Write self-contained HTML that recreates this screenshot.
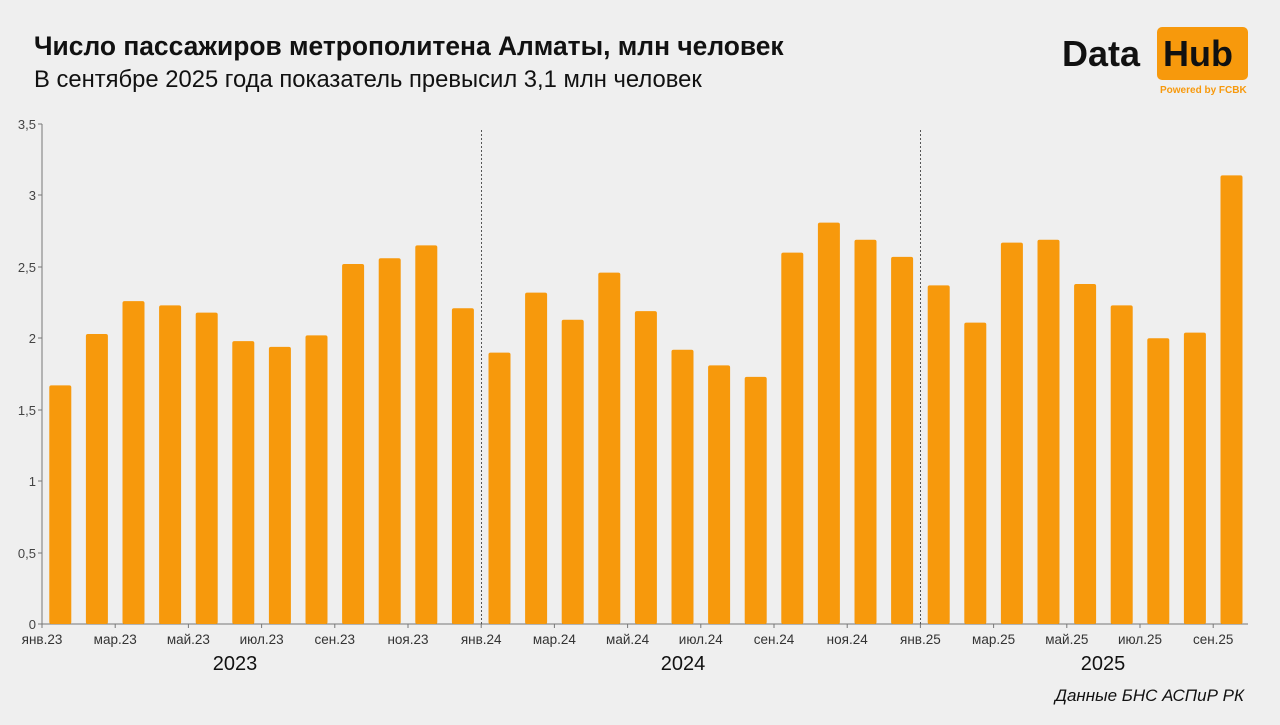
<!DOCTYPE html>
<html><head><meta charset="utf-8"><style>
body{margin:0;width:1280px;height:720px;background:#efefef;overflow:hidden;font-family:"Liberation Sans",sans-serif}
</style></head><body>
<svg width="1280" height="720" xmlns="http://www.w3.org/2000/svg" font-family="Liberation Sans, sans-serif">
<rect width="1280" height="720" fill="#efefef"/>
<text x="34" y="55" font-size="26.4" font-weight="bold" fill="#111">Число пассажиров метрополитена Алматы, млн человек</text>
<text x="34" y="87" font-size="23.8" fill="#111">В сентябре 2025 года показатель превысил 3,1 млн человек</text>
<text x="1062" y="66" font-size="36" font-weight="bold" fill="#111">Data</text>
<rect x="1157" y="27" width="91" height="53" rx="5" fill="#f7990c"/>
<text x="1163" y="66" font-size="36" font-weight="bold" fill="#111">Hub</text>
<text x="1160" y="93" font-size="10" font-weight="bold" fill="#f7990c">Powered by FCBK</text>
<g font-size="13" fill="#444" text-anchor="end">
<text x="36" y="629">0</text><text x="36" y="558">0,5</text><text x="36" y="486">1</text><text x="36" y="415">1,5</text><text x="36" y="343">2</text><text x="36" y="272">2,5</text><text x="36" y="200">3</text><text x="36" y="129">3,5</text>
</g>
<g stroke="#777" stroke-width="1">
<line x1="42" y1="124" x2="42" y2="624"/>
<line x1="42" y1="624" x2="1248" y2="624"/>
<line x1="38" y1="124" x2="42" y2="124"/><line x1="38" y1="195" x2="42" y2="195"/><line x1="38" y1="267" x2="42" y2="267"/><line x1="38" y1="338" x2="42" y2="338"/><line x1="38" y1="410" x2="42" y2="410"/><line x1="38" y1="481" x2="42" y2="481"/><line x1="38" y1="553" x2="42" y2="553"/><line x1="38" y1="624" x2="42" y2="624"/>
</g>
<g stroke="#555" stroke-dasharray="2,2" stroke-width="1">
<line x1="481.5" y1="130" x2="481.5" y2="624"/>
<line x1="920.5" y1="130" x2="920.5" y2="624"/>
</g>
<g fill="#f7990c">
<rect x="49.3" y="385.4" width="22" height="238.6" rx="2"/>
<rect x="85.9" y="334.0" width="22" height="290.0" rx="2"/>
<rect x="122.5" y="301.1" width="22" height="322.9" rx="2"/>
<rect x="159.1" y="305.4" width="22" height="318.6" rx="2"/>
<rect x="195.7" y="312.6" width="22" height="311.4" rx="2"/>
<rect x="232.3" y="341.1" width="22" height="282.9" rx="2"/>
<rect x="268.9" y="346.9" width="22" height="277.1" rx="2"/>
<rect x="305.5" y="335.4" width="22" height="288.6" rx="2"/>
<rect x="342.1" y="264.0" width="22" height="360.0" rx="2"/>
<rect x="378.7" y="258.3" width="22" height="365.7" rx="2"/>
<rect x="415.3" y="245.4" width="22" height="378.6" rx="2"/>
<rect x="451.9" y="308.3" width="22" height="315.7" rx="2"/>
<rect x="488.5" y="352.6" width="22" height="271.4" rx="2"/>
<rect x="525.1" y="292.6" width="22" height="331.4" rx="2"/>
<rect x="561.7" y="319.7" width="22" height="304.3" rx="2"/>
<rect x="598.3" y="272.6" width="22" height="351.4" rx="2"/>
<rect x="634.9" y="311.1" width="22" height="312.9" rx="2"/>
<rect x="671.5" y="349.7" width="22" height="274.3" rx="2"/>
<rect x="708.1" y="365.4" width="22" height="258.6" rx="2"/>
<rect x="744.7" y="376.9" width="22" height="247.1" rx="2"/>
<rect x="781.3" y="252.6" width="22" height="371.4" rx="2"/>
<rect x="817.9" y="222.6" width="22" height="401.4" rx="2"/>
<rect x="854.5" y="239.7" width="22" height="384.3" rx="2"/>
<rect x="891.1" y="256.9" width="22" height="367.1" rx="2"/>
<rect x="927.7" y="285.4" width="22" height="338.6" rx="2"/>
<rect x="964.3" y="322.6" width="22" height="301.4" rx="2"/>
<rect x="1000.9" y="242.6" width="22" height="381.4" rx="2"/>
<rect x="1037.5" y="239.7" width="22" height="384.3" rx="2"/>
<rect x="1074.1" y="284.0" width="22" height="340.0" rx="2"/>
<rect x="1110.7" y="305.4" width="22" height="318.6" rx="2"/>
<rect x="1147.3" y="338.3" width="22" height="285.7" rx="2"/>
<rect x="1183.9" y="332.6" width="22" height="291.4" rx="2"/>
<rect x="1220.5" y="175.4" width="22" height="448.6" rx="2"/>
</g>
<g stroke="#777">
<line x1="42" y1="624" x2="42" y2="628"/><line x1="115.2" y1="624" x2="115.2" y2="628"/><line x1="188.4" y1="624" x2="188.4" y2="628"/><line x1="261.6" y1="624" x2="261.6" y2="628"/><line x1="334.8" y1="624" x2="334.8" y2="628"/><line x1="408" y1="624" x2="408" y2="628"/><line x1="481.2" y1="624" x2="481.2" y2="628"/><line x1="554.4" y1="624" x2="554.4" y2="628"/><line x1="627.6" y1="624" x2="627.6" y2="628"/><line x1="700.8" y1="624" x2="700.8" y2="628"/><line x1="774" y1="624" x2="774" y2="628"/><line x1="847.2" y1="624" x2="847.2" y2="628"/><line x1="920.4" y1="624" x2="920.4" y2="628"/><line x1="993.6" y1="624" x2="993.6" y2="628"/><line x1="1066.8" y1="624" x2="1066.8" y2="628"/><line x1="1140" y1="624" x2="1140" y2="628"/><line x1="1213.2" y1="624" x2="1213.2" y2="628"/>
</g>
<g font-size="13.5" fill="#333" text-anchor="middle">
<text x="42" y="644">янв.23</text><text x="115.2" y="644">мар.23</text><text x="188.4" y="644">май.23</text><text x="261.6" y="644">июл.23</text><text x="334.8" y="644">сен.23</text><text x="408" y="644">ноя.23</text>
<text x="481.2" y="644">янв.24</text><text x="554.4" y="644">мар.24</text><text x="627.6" y="644">май.24</text><text x="700.8" y="644">июл.24</text><text x="774" y="644">сен.24</text><text x="847.2" y="644">ноя.24</text>
<text x="920.4" y="644">янв.25</text><text x="993.6" y="644">мар.25</text><text x="1066.8" y="644">май.25</text><text x="1140" y="644">июл.25</text><text x="1213.2" y="644">сен.25</text>
</g>
<g font-size="20" fill="#111" text-anchor="middle">
<text x="235" y="670">2023</text><text x="683" y="670">2024</text><text x="1103" y="670">2025</text>
</g>
<text x="1244" y="701" font-size="17" font-style="italic" fill="#111" text-anchor="end">Данные БНС АСПиР РК</text>
</svg>
</body></html>
